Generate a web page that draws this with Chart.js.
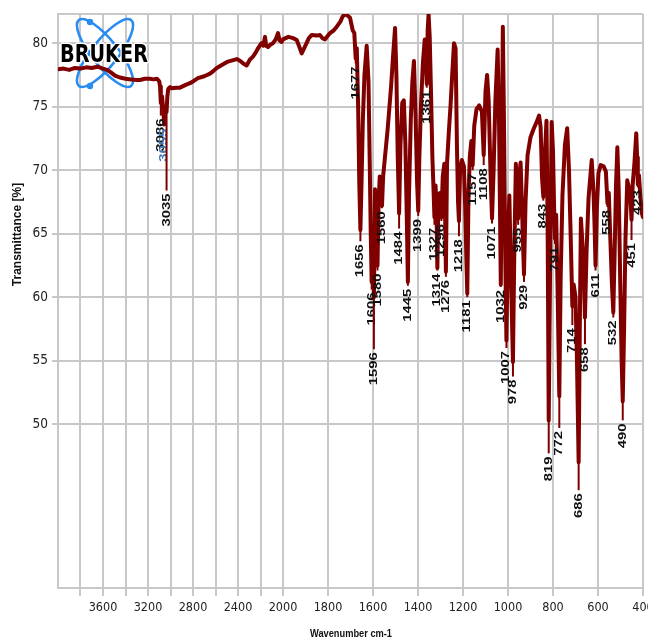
<!DOCTYPE html>
<html><head><meta charset="utf-8">
<script src="https://cdn.jsdelivr.net/npm/chart.js@4.4.0/dist/chart.umd.min.js"></script>
<style>html,body{margin:0;padding:0;background:#fff;}</style>
</head><body>
<canvas id="c" width="648" height="644"></canvas>
<script>
// ---------------- data ----------------
const wavenumbers = [4000,3950,3900,3850,3800,3750,3700,3650,3600,3564,3530,3493,3450,3400,3350,3300,3271,3230,3182,3150,3120,3100,3093,3086,3075,3065,3055,3045,3035,3028,3020,3004,2989,2950,2916,2870,2827,2790,2756,2700,2649,2620,2589,2540,2489,2450,2411,2380,2353,2323,2295,2267,2240,2222,2200,2189,2175,2160,2150,2133,2110,2089,2065,2044,2030,2012,2000,1976,1955,1939,1925,1917,1902,1885,1872,1850,1836,1825,1813,1800,1791,1775,1761,1745,1735,1724,1715,1702,1690,1683,1677,1672,1666,1661,1656,1651,1645,1638,1628,1620,1614,1610,1606,1601,1596,1591,1586,1580,1575,1570,1565,1560,1555,1548,1535,1520,1510,1502,1496,1490,1484,1478,1470,1463,1456,1450,1445,1440,1432,1425,1418,1411,1404,1399,1394,1386,1378,1370,1365,1361,1357,1353,1348,1342,1336,1331,1327,1322,1318,1314,1309,1303,1296,1290,1283,1280,1276,1271,1263,1255,1248,1240,1233,1227,1222,1218,1213,1205,1196,1190,1185,1181,1176,1170,1163,1157,1150,1140,1128,1116,1108,1100,1093,1086,1078,1071,1064,1056,1046,1040,1032,1027,1023,1018,1012,1007,1001,994,986,978,972,965,960,955,950,944,937,929,922,913,900,885,870,862,855,849,843,836,829,824,819,813,806,800,795,791,786,780,772,766,758,747,737,729,721,714,708,700,694,686,681,676,670,664,658,651,642,628,620,615,611,605,598,588,575,565,558,552,545,538,532,526,520,514,508,501,495,490,484,478,470,462,456,451,446,438,430,426,423,418,411,405,400];
const transmittance = [77.95,78.0,77.9,78.05,78.0,78.1,78.05,78.15,78.0,77.9,77.7,77.45,77.3,77.2,77.15,77.1,77.1,77.2,77.2,77.15,77.2,77.0,76.6,75.3,75.8,74.8,73.6,74.9,74.6,75.8,76.4,76.55,76.45,76.5,76.5,76.7,76.85,77.05,77.25,77.4,77.6,77.8,78.05,78.3,78.55,78.65,78.75,78.6,78.4,78.25,78.7,78.95,79.3,79.6,79.9,80.0,79.8,80.5,79.8,79.7,79.9,80.0,80.3,80.8,80.2,80.1,80.3,80.5,80.4,80.25,79.6,79.2,79.75,80.4,80.65,80.6,80.65,80.4,80.3,80.6,80.8,81.0,81.3,81.7,82.1,82.3,82.2,82.0,81.0,80.8,78.8,79.6,75,69,65.3,69,74,77.5,79.8,77,70,65,61.2,64,60.0,68.5,67.5,62.5,67.5,69.5,68,67.2,69.5,70.8,73.2,76.5,79.2,81.2,77.5,71,66.6,72,75.3,75.5,72,66.5,61.2,68,74,77,78.6,74.5,69,66.8,71,75.5,78.5,80.3,79.2,76.8,81,82.3,80.5,76,71,68.5,66.3,68.8,67.2,62.3,67.8,68.2,66.3,69.5,70.5,67,62,70.5,73,75.2,77.5,80,79.6,72,67.5,66.0,70,70.8,70.3,67,63,60.3,67.5,71,72.3,70.4,73.5,74.8,75.1,74.6,71.2,76.2,77.5,75.5,70,66.2,70,75.5,79.5,74,61.0,72,81.3,74,63,56.6,64,68,61,54.9,63.5,70.5,68.5,66.2,69.5,70.6,66.5,61.8,67.5,71.2,72.6,73.3,73.9,74.3,73.4,69.5,67.9,71.2,73.9,66,50.3,62,73.8,71.5,67,64.6,66.5,61,52.2,61.5,68,72,73.3,70,64.5,59.3,61,60,55.5,47.0,57.5,66.2,64.5,62.5,58.4,63.5,67.8,70.8,68.3,65.5,62.5,67,69.8,70.4,70.3,69.9,67.4,68.2,64.5,61,58.8,63.5,68.8,71.8,68.5,61,55,51.8,57.5,64.5,69.2,68.6,67.8,66.1,68.8,70.6,72.9,71,68.9,69.6,67.8,66.6,66.3];

const peakWavenumbers = [3086,3055,3035,1677,1656,1606,1596,1580,1560,1484,1445,1399,1361,1327,1314,1296,1276,1218,1181,1157,1108,1071,1032,1007,978,955,929,843,819,791,772,714,686,658,611,558,532,490,451,423];
const peakLevels = [74.3,73.5,68.4,78.4,64.4,60.6,55.9,62.1,67.0,65.4,60.9,66.4,76.5,65.7,62.1,66.0,61.6,64.8,60.0,70.0,70.4,65.8,60.8,56.0,53.75,65.7,61.2,67.6,47.7,64.2,49.7,57.8,44.8,56.3,62.1,67.1,58.4,50.3,64.5,68.65];

const xTickValues = [3800,3600,3400,3200,3000,2800,2600,2400,2200,2000,1800,1600,1400,1200,1000,800,600,400];
const xTickLabels = [3600,3200,2800,2400,2000,1800,1600,1400,1200,1000,800,600,400];
const yTickValues = [50,55,60,65,70,75,80];

const xTitle = 'Wavenumber cm-1';
const yTitle = 'Transmittance [%]';
const logoText = 'BRUKER';

// ---------------- wavenumber axis with 2x expansion below 2000 ----------------
const BREAK = 2000;
const toU = v => v <= BREAK ? v : BREAK + (v - BREAK) / 2;
const fromU = u => u <= BREAK ? u : BREAK + (u - BREAK) * 2;
class BrokenLinearScale extends Chart.LinearScale {
  getPixelForValue(value) {
    if (value === null || value === undefined || isNaN(value)) return NaN;
    const a = toU(this.min), b = toU(this.max);
    return this.getPixelForDecimal((toU(value) - a) / (b - a));
  }
  getValueForPixel(pixel) {
    const a = toU(this.min), b = toU(this.max);
    return fromU(a + this.getDecimalForPixel(pixel) * (b - a));
  }
}
BrokenLinearScale.id = 'brokenLinear';
BrokenLinearScale.defaults = Chart.LinearScale.defaults;
Chart.register(BrokenLinearScale);

const RED = '#800000';
const GRID = '#c8c8c8';
const NARROW = "'Liberation Sans Narrow', 'DejaVu Sans Condensed', 'Liberation Sans', sans-serif";

function interp(w) {
  for (let i = 0; i < wavenumbers.length - 1; i++) {
    const a = wavenumbers[i], b = wavenumbers[i + 1];
    if (w <= a && w >= b) {
      const t = (a - w) / (a - b);
      return transmittance[i] + t * (transmittance[i + 1] - transmittance[i]);
    }
  }
  return transmittance[transmittance.length - 1];
}

const overlay = {
  id: 'overlay',
  beforeDatasetsDraw(chart) {
    const ctx = chart.ctx, ca = chart.chartArea;
    ctx.save();
    ctx.strokeStyle = GRID; ctx.lineWidth = 2;
    ctx.beginPath(); ctx.moveTo(ca.left, ca.top); ctx.lineTo(ca.right, ca.top); ctx.stroke();
    ctx.strokeStyle = '#2a8cf0'; ctx.lineWidth = 2.6;
    const cx = ca.left + 47, cy = ca.top + 39;
    [0.9, -0.9].forEach(ang => {
      ctx.beginPath(); ctx.ellipse(cx, cy, 42, 13, ang, 0, Math.PI * 2); ctx.stroke();
    });
    ctx.fillStyle = '#2a8cf0';
    [[cx - 15, cy - 31], [cx - 15, cy + 33]].forEach(p => {
      ctx.beginPath(); ctx.arc(p[0], p[1], 3.2, 0, Math.PI * 2); ctx.fill();
    });
    ctx.font = "bold 24px 'DejaVu Sans', sans-serif";
    const tw = ctx.measureText(logoText).width;
    ctx.translate(ca.left + 2, cy + 9);
    ctx.scale(88 / tw, 1);
    ctx.lineJoin = 'round';
    ctx.strokeStyle = '#ffffff'; ctx.lineWidth = 3;
    ctx.strokeText(logoText, 0, 0);
    ctx.fillStyle = '#000000';
    ctx.fillText(logoText, 0, 0);
    ctx.restore();
  },
  afterDatasetsDraw(chart) {
    const ctx = chart.ctx, xs = chart.scales.x, ys = chart.scales.y;
    ctx.save();
    ctx.font = "bold 11px 'Liberation Sans', Arial, sans-serif";
    peakWavenumbers.forEach((w, i) => {
      const px = xs.getPixelForValue(w);
      const p0 = ys.getPixelForValue(interp(w));
      const p1 = ys.getPixelForValue(peakLevels[i]);
      if (p1 > p0 + 1) {
        ctx.strokeStyle = RED; ctx.lineWidth = 2;
        ctx.beginPath(); ctx.moveTo(px, p0); ctx.lineTo(px, p1); ctx.stroke();
      }
      ctx.save();
      ctx.translate(px, p1 + 3);
      ctx.rotate(-Math.PI / 2);
      ctx.scale(1.35, 1);
      ctx.textAlign = 'right'; ctx.textBaseline = 'middle';
      ctx.fillStyle = (i === 1) ? '#3f78b8' : '#111111';
      ctx.fillText(String(w), 0, 0);
      ctx.restore();
    });
    ctx.restore();
  },
  afterDraw(chart) {
    const ctx = chart.ctx, ca = chart.chartArea;
    ctx.save();
    ctx.fillStyle = '#111';
    ctx.textAlign = 'center'; ctx.textBaseline = 'middle';
    ctx.font = "bold 11.5px 'Liberation Sans', Arial, sans-serif";
    const w = ctx.measureText(xTitle).width;
    ctx.save();
    ctx.translate(351, 634);
    ctx.scale(82 / w, 1);
    ctx.fillText(xTitle, 0, 0);
    ctx.restore();
    ctx.translate(18, 234.5);
    ctx.rotate(-Math.PI / 2);
    ctx.font = "bold 12px 'Liberation Sans', Arial, sans-serif";
    ctx.fillText(yTitle, 0, 0);
    ctx.restore();
  }
};

new Chart(document.getElementById('c'), {
  type: 'line',
  data: {
    datasets: [{
      data: wavenumbers.map((w, i) => ({ x: w, y: transmittance[i] })),
      borderColor: RED,
      borderWidth: 4,
      pointRadius: 0,
      tension: 0,
      borderJoinStyle: 'round',
      borderCapStyle: 'round',
      fill: false
    }]
  },
  options: {
    responsive: false,
    animation: false,
    devicePixelRatio: 1,
    layout: { padding: { top: 14, right: 5, left: 0, bottom: 0 } },
    plugins: { legend: { display: false }, tooltip: { enabled: false } },
    scales: {
      x: {
        type: 'brokenLinear',
        min: 400, max: 4000, reverse: true, bounds: 'data',
        afterBuildTicks: s => { s.ticks = xTickValues.map(v => ({ value: v })); },
        afterFit: s => { s.height = 56; s.paddingLeft = 0; s.paddingRight = 0; },
        ticks: {
          autoSkip: false, maxRotation: 0, minRotation: 0, padding: 4,
          color: '#222',
          font: { family: NARROW, size: 12.5 },
          callback: v => xTickLabels.includes(v) ? String(v) : ''
        },
        grid: { color: GRID, lineWidth: 2, tickLength: 8, drawTicks: true },
        border: { display: true, color: GRID, width: 2 }
      },
      y: {
        type: 'linear',
        min: 37.1, max: 82.3, bounds: 'data',
        afterBuildTicks: s => { s.ticks = yTickValues.map(v => ({ value: v })); },
        afterFit: s => { s.width = 58; s.paddingTop = 0; s.paddingBottom = 0; },
        ticks: {
          padding: 4, color: '#222',
          font: { family: NARROW, size: 13.5 },
          callback: v => String(v)
        },
        grid: { color: GRID, lineWidth: 2, tickLength: 6, drawTicks: true },
        border: { display: true, color: GRID, width: 2 }
      }
    }
  },
  plugins: [overlay]
});
</script>
</body></html>
